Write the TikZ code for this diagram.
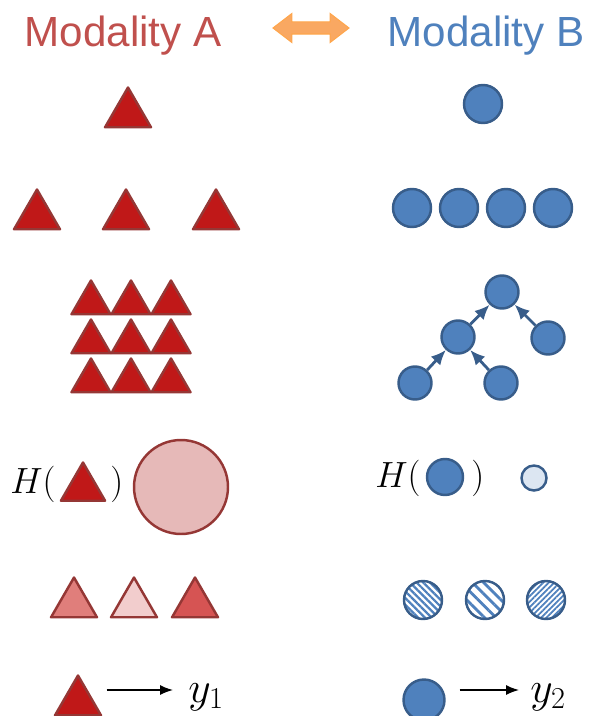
\documentclass[tikz,border=0pt]{standalone}
\usepackage{fontspec}
\newfontfamily\headfont{Liberation Sans}
\usepackage{tikz}
\usetikzlibrary{positioning,arrows.meta,shapes.geometric,shapes.arrows,patterns.meta}
\definecolor{modAred}{RGB}{192,80,77}
\definecolor{modBblue}{RGB}{79,129,189}
\definecolor{trired}{RGB}{192,24,24}
\definecolor{triedge}{RGB}{149,55,53}
\definecolor{dotedge}{RGB}{56,93,138}
\definecolor{swaporange}{RGB}{249,168,98}
\tikzset{
  heading/.style={font=\headfont\fontsize{24}{28}\selectfont, inner sep=0pt},
  swaparrow/.style={double arrow, draw=orange!70, fill=swaporange, line width=0.6pt, minimum width=0.56cm, minimum height=1.52cm, double arrow head extend=0.17cm, double arrow tip angle=75, inner sep=0.11cm},
  redtri/.style={regular polygon, regular polygon sides=3, draw=triedge, line width=1.4pt, line join=round, fill=trired, inner sep=0pt, minimum size=1.06cm},
  gridtri/.style={redtri, minimum size=0.9cm},
  bluedot/.style={circle, draw=dotedge, line width=1.4pt, fill=modBblue, inner sep=0pt, minimum size=0.76cm},
  treedot/.style={bluedot, minimum size=0.66cm},
  hatched/.style={circle, draw=dotedge, line width=1.4pt, inner sep=0pt, minimum size=0.76cm},
  treearrow/.style={-{Latex[length=3mm, width=2.6mm]}, line width=1.6pt, draw=dotedge},
  outarrow/.style={-{Latex[length=2.6mm, width=2mm]}, line width=0.8pt},
  mathlabel/.style={font=\fontsize{22}{26}\selectfont, inner sep=0pt}
}
\begin{document}
\begin{tikzpicture}[x=0.02cm, y=-0.02cm, >=Latex]
  \useasboundingbox (0,0) rectangle (589,716);
  \node[heading, text=modAred, anchor=base] (headA) at (123,47) {Modality A};
  \node[heading, text=modBblue, anchor=base] (headB) at (486,47) {Modality B};
  \node[swaparrow] (swap) at (311,28) {};

  \node[redtri] (aone) at (128,114) {};
  \node[bluedot] (bone) at (483,104) {};

  \node[redtri] (arowL) at (37,216) {};
  \node[redtri] (arowM) at (126,216) {};
  \node[redtri] (arowR) at (216,216) {};
  \node[bluedot] (brow1) at (412,208) {};
  \node[bluedot] (brow2) at (459,208) {};
  \node[bluedot] (brow3) at (506,208) {};
  \node[bluedot] (brow4) at (553,208) {};

  \node[gridtri] (grid11) at (91,303) {};
  \node[gridtri] (grid12) at (131,303) {};
  \node[gridtri] (grid13) at (171,303) {};
  \node[gridtri] (grid21) at (91,342) {};
  \node[gridtri] (grid22) at (131,342) {};
  \node[gridtri] (grid23) at (171,342) {};
  \node[gridtri] (grid31) at (91,381) {};
  \node[gridtri] (grid32) at (131,381) {};
  \node[gridtri] (grid33) at (171,381) {};

  \node[treedot] (troot) at (502,292) {};
  \node[treedot] (tmid) at (458,337) {};
  \node[treedot] (tright) at (548,338) {};
  \node[treedot] (tleafL) at (415,383) {};
  \node[treedot] (tleafR) at (501,383) {};
  \draw[treearrow] (tmid) -- (troot);
  \draw[treearrow] (tright) -- (troot);
  \draw[treearrow] (tleafL) -- (tmid);
  \draw[treearrow] (tleafR) -- (tmid);

  \node[redtri, minimum size=1.02cm] (entA) at (83,488) {};
  \node[mathlabel, anchor=base east] (openA) at (56,493) {$H($};
  \node[mathlabel, anchor=base west] (closeA) at (110,493) {$)$};
  \node[circle, draw=triedge, line width=1.4pt, fill={rgb,255:red,230;green,185;blue,184}, inner sep=0pt, minimum size=1.88cm] (bigA) at (181,487) {};
  \node[bluedot, minimum size=0.72cm] (entB) at (445,477) {};
  \node[mathlabel, anchor=base east] (openB) at (421,487) {$H($};
  \node[mathlabel, anchor=base west] (closeB) at (471,487) {$)$};
  \node[bluedot, fill={rgb,255:red,220;green,230;blue,242}, minimum size=0.5cm] (smallB) at (534,478) {};

  \node[redtri, fill={rgb,255:red,224;green,126;blue,123}] (shadeA1) at (74,604) {};
  \node[redtri, fill={rgb,255:red,242;green,205;blue,205}] (shadeA2) at (134,604) {};
  \node[redtri, fill={rgb,255:red,214;green,84;blue,83}] (shadeA3) at (195,604) {};
  \node[hatched, pattern={Lines[angle=-45, distance=2.7pt, line width=1.3pt]}, pattern color=modBblue] (hatchB1) at (423,600) {};
  \node[hatched, pattern={Lines[angle=-45, distance=4.6pt, line width=1.6pt]}, pattern color=modBblue] (hatchB2) at (485,600) {};
  \node[hatched, pattern={Lines[angle=45, distance=2.2pt, line width=1pt]}, pattern color=modBblue] (hatchB3) at (546,600) {};

  \node[redtri] (inA) at (78,702) {};
  \node[mathlabel, font=\fontsize{25}{28}\selectfont, anchor=base west] (outA) at (188,702) {$y_1$};
  \node[bluedot, minimum size=0.82cm] (inB) at (424,700) {};
  \node[mathlabel, font=\fontsize{25}{28}\selectfont, anchor=base west] (outB) at (530,702) {$y_2$};
  \draw[outarrow] ([shift={(12,-12)}]inA.east) -- ([shift={(-15,-12)}]outA.base west);
  \draw[outarrow] ([shift={(14,-10)}]inB.east) -- ([shift={(-11,-12)}]outB.base west);
\end{tikzpicture}
\end{document}
